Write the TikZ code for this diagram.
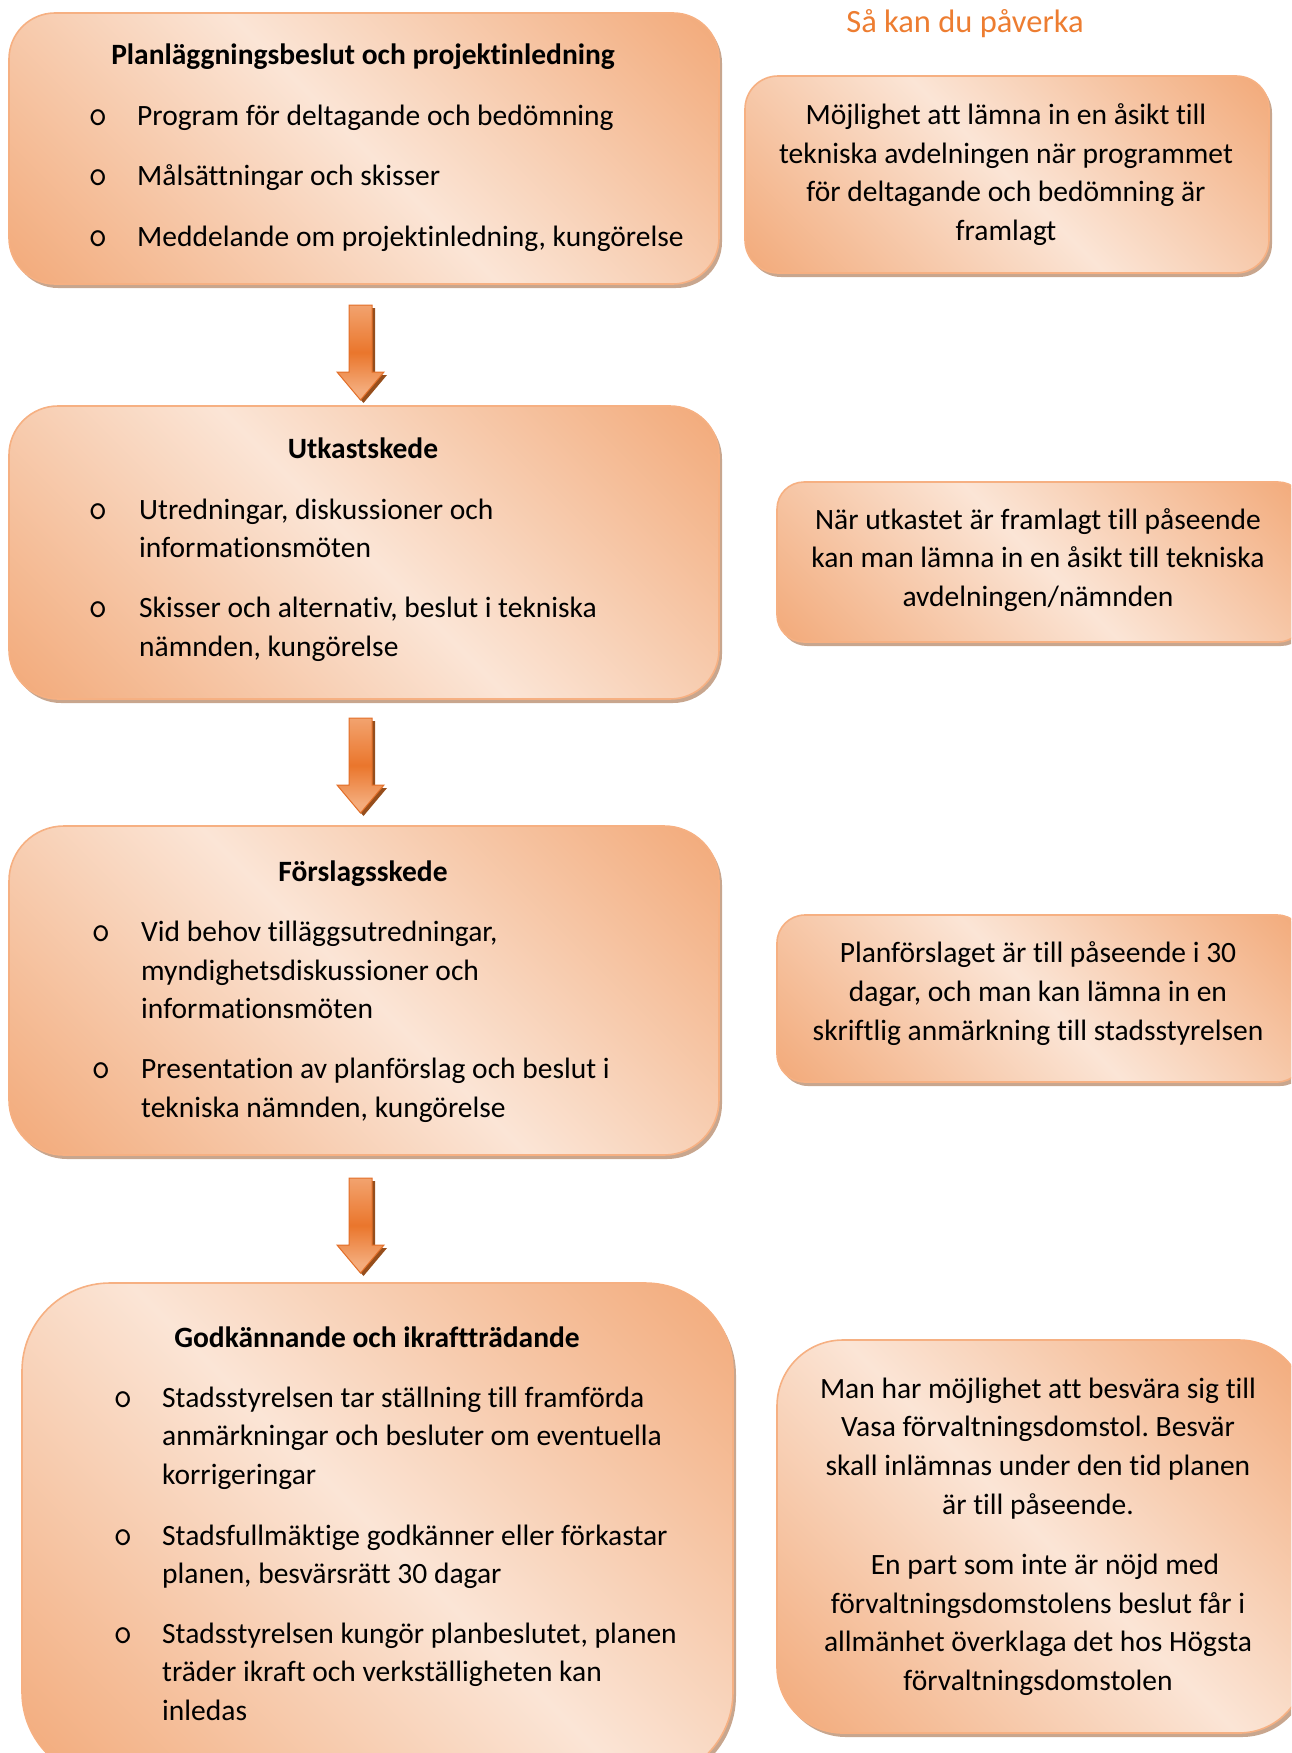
\documentclass[tikz,border=0pt]{standalone}
\usepackage{fontspec}
\setmainfont{Carlito}[Ligatures=NoCommon]
\frenchspacing
\usetikzlibrary{calc}
\definecolor{pdark}{RGB}{242,170,122}
\definecolor{plight}{RGB}{251,229,214}
\definecolor{pborder}{RGB}{246,176,130}
\definecolor{pshadow}{RGB}{200,166,142}
\definecolor{aorange}{RGB}{234,118,44}
\definecolor{alight}{RGB}{244,172,124}
\definecolor{aborder}{RGB}{226,110,40}
\definecolor{ashadow}{RGB}{150,78,28}
\definecolor{titleorange}{RGB}{237,125,49}
\pgfdeclarehorizontalshading{peach}{100bp}{color(0bp)=(pdark); color(15bp)=(pdark); color(50bp)=(plight); color(85bp)=(pdark); color(100bp)=(pdark)}
\pgfdeclareverticalshading{arrowshade}{100bp}{color(0bp)=(alight); color(30bp)=(alight); color(50bp)=(aorange); color(80bp)=(alight); color(100bp)=(alight)}
\tikzset{
  txt/.style={font=\fontsize{29.5}{35}\selectfont, inner sep=0pt, text=black},
  ttl/.style={font=\fontsize{29.5}{35}\selectfont\bfseries, inner sep=0pt, text=black},
  bul/.style={font=\fontsize{36}{40}\selectfont\ttfamily, inner sep=0pt, text=black},
  boxshadow/.style={fill=pshadow},
  boxfill/.style={shading=peach, shading angle=45, draw=pborder, line width=1.6pt},
  arrshadow/.style={fill=ashadow},
  arrfill/.style={shading=arrowshade, draw=aborder, line width=1pt}
}
% name, x1, y1, x2, y2, radius
\newcommand\pbox[6]{%
  \fill[boxshadow, rounded corners=#6] ({#2+3},{#3+4}) rectangle ({#4+3},{#5+4});
  \shadedraw[boxfill, rounded corners=#6] (#2,#3) rectangle (#4,#5);
  \coordinate (#1) at ({(#2+#4)/2},{(#3+#5)/2});
}
% name, top y
\newcommand\blockarrow[2]{%
  \fill[arrshadow] ({349+3},{#2+3}) -- ({372+3},{#2+3}) -- ({372+3},{#2+67+3}) -- ({384+3},{#2+67+3}) -- ({360.5+3},{#2+95+3}) -- ({337+3},{#2+67+3}) -- ({349+3},{#2+67+3}) -- cycle;
  \shadedraw[arrfill] (349,#2) -- (372,#2) -- (372,{#2+67}) -- (384,{#2+67}) -- (360.5,{#2+95}) -- (337,{#2+67}) -- (349,{#2+67}) -- cycle;
  \coordinate (#1) at (360.5,{#2+95});
}
% left-aligned line: name, x, y, text
\newcommand\Lt[4]{\node[txt, anchor=base west] (#1) at (#2,{#3+10}) {#4};}
% centred line
\newcommand\Lc[4]{\node[txt, anchor=base] (#1) at (#2,{#3+10}) {#4};}
% title
\newcommand\Tt[4]{\node[ttl, anchor=base] (#1) at (#2,{#3+10}) {#4};}
% bullet
\newcommand\Bu[3]{\node[bul, anchor=base] (#1) at (#2,{#3+10}) {o};}
\begin{document}
\begin{tikzpicture}[x=1pt, y=-1pt]
\useasboundingbox (0,0) rectangle (1291,1753);
\clip (0,0) rectangle (1291,1753);

% ---- left column boxes ----
\pbox{b1}{9}{13}{719}{284}{46}
\pbox{b2}{9}{406}{719}{699}{49}
\pbox{b3}{9}{826}{719}{1155}{55}
\pbox{b4}{22}{1283}{733}{1780}{88}

% ---- right column boxes ----
\pbox{r1}{745}{76}{1269}{273}{33}
\pbox{r2}{777}{482}{1305}{642}{27}
\pbox{r3}{777}{915}{1305}{1082}{28}
\pbox{r4}{777}{1340}{1305}{1733}{66}

% ---- arrows ----
\blockarrow{a1}{305}
\blockarrow{a2}{718}
\blockarrow{a3}{1178}

% ---- heading ----
\node[font=\fontsize{32.5}{38}\selectfont, inner sep=0pt, text=titleorange, anchor=base] (head) at (965,33) {Så kan du påverka};

% ---- box 1 ----
\Tt{t1}{363}{55}{Planläggningsbeslut och projektinledning}
\Bu{b1a}{98}{115} \Lt{l1a}{137}{115}{Program för deltagande och bedömning}
\Bu{b1b}{98}{175} \Lt{l1b}{137}{175}{Målsättningar och skisser}
\Bu{b1c}{98}{236} \Lt{l1c}{137}{236}{Meddelande om projektinledning, kungörelse}

% ---- box 2 ----
\Tt{t2}{363}{448}{Utkastskede}
\Bu{b2a}{98}{509} \Lt{l2a}{139}{509}{Utredningar, diskussioner och}
\Lt{l2b}{139}{547}{informationsmöten}
\Bu{b2c}{98}{607} \Lt{l2c}{139}{607}{Skisser och alternativ, beslut i tekniska}
\Lt{l2d}{139}{646}{nämnden, kungörelse}

% ---- box 3 ----
\Tt{t3}{363}{871}{Förslagsskede}
\Bu{b3a}{101}{931} \Lt{l3a}{141}{931}{Vid behov tilläggsutredningar,}
\Lt{l3b}{141}{970}{myndighetsdiskussioner och}
\Lt{l3c}{141}{1008}{informationsmöten}
\Bu{b3d}{101}{1068} \Lt{l3d}{141}{1068}{Presentation av planförslag och beslut i}
\Lt{l3e}{141}{1107}{tekniska nämnden, kungörelse}

% ---- box 4 ----
\Tt{t4}{377}{1337}{Godkännande och ikraftträdande}
\Bu{b4a}{123}{1397} \Lt{l4a}{162}{1397}{Stadsstyrelsen tar ställning till framförda}
\Lt{l4b}{162}{1435}{anmärkningar och besluter om eventuella}
\Lt{l4c}{162}{1474}{korrigeringar}
\Bu{b4d}{123}{1535} \Lt{l4d}{162}{1535}{Stadsfullmäktige godkänner eller förkastar}
\Lt{l4e}{162}{1573}{planen, besvärsrätt 30 dagar}
\Bu{b4f}{123}{1633} \Lt{l4f}{162}{1633}{Stadsstyrelsen kungör planbeslutet, planen}
\Lt{l4g}{162}{1671}{träder ikraft och verkställigheten kan}
\Lt{l4h}{162}{1710}{inledas}

% ---- right 1 ----
\Lc{q1a}{1006}{114}{Möjlighet att lämna in en åsikt till}
\Lc{q1b}{1006}{153}{tekniska avdelningen när programmet}
\Lc{q1c}{1006}{191}{för deltagande och bedömning är}
\Lc{q1d}{1006}{230}{framlagt}

% ---- right 2 ----
\Lc{q2a}{1038}{519}{När utkastet är framlagt till påseende}
\Lc{q2b}{1038}{557}{kan man lämna in en åsikt till tekniska}
\Lc{q2c}{1038}{596}{avdelningen/nämnden}

% ---- right 3 ----
\Lc{q3a}{1038}{952}{Planförslaget är till påseende i 30}
\Lc{q3b}{1038}{991}{dagar, och man kan lämna in en}
\Lc{q3c}{1038}{1030}{skriftlig anmärkning till stadsstyrelsen}

% ---- right 4 ----
\Lc{q4a}{1038}{1388}{Man har möjlighet att besvära sig till}
\Lc{q4b}{1038}{1426}{Vasa förvaltningsdomstol. Besvär}
\Lc{q4c}{1038}{1465}{skall inlämnas under den tid planen}
\Lc{q4d}{1038}{1504}{är till påseende.}
\Lc{q4e}{1045}{1564}{En part som inte är nöjd med}
\Lc{q4f}{1038}{1603}{förvaltningsdomstolens beslut får i}
\Lc{q4g}{1038}{1641}{allmänhet överklaga det hos Högsta}
\Lc{q4h}{1038}{1680}{förvaltningsdomstolen}
\end{tikzpicture}
\end{document}
